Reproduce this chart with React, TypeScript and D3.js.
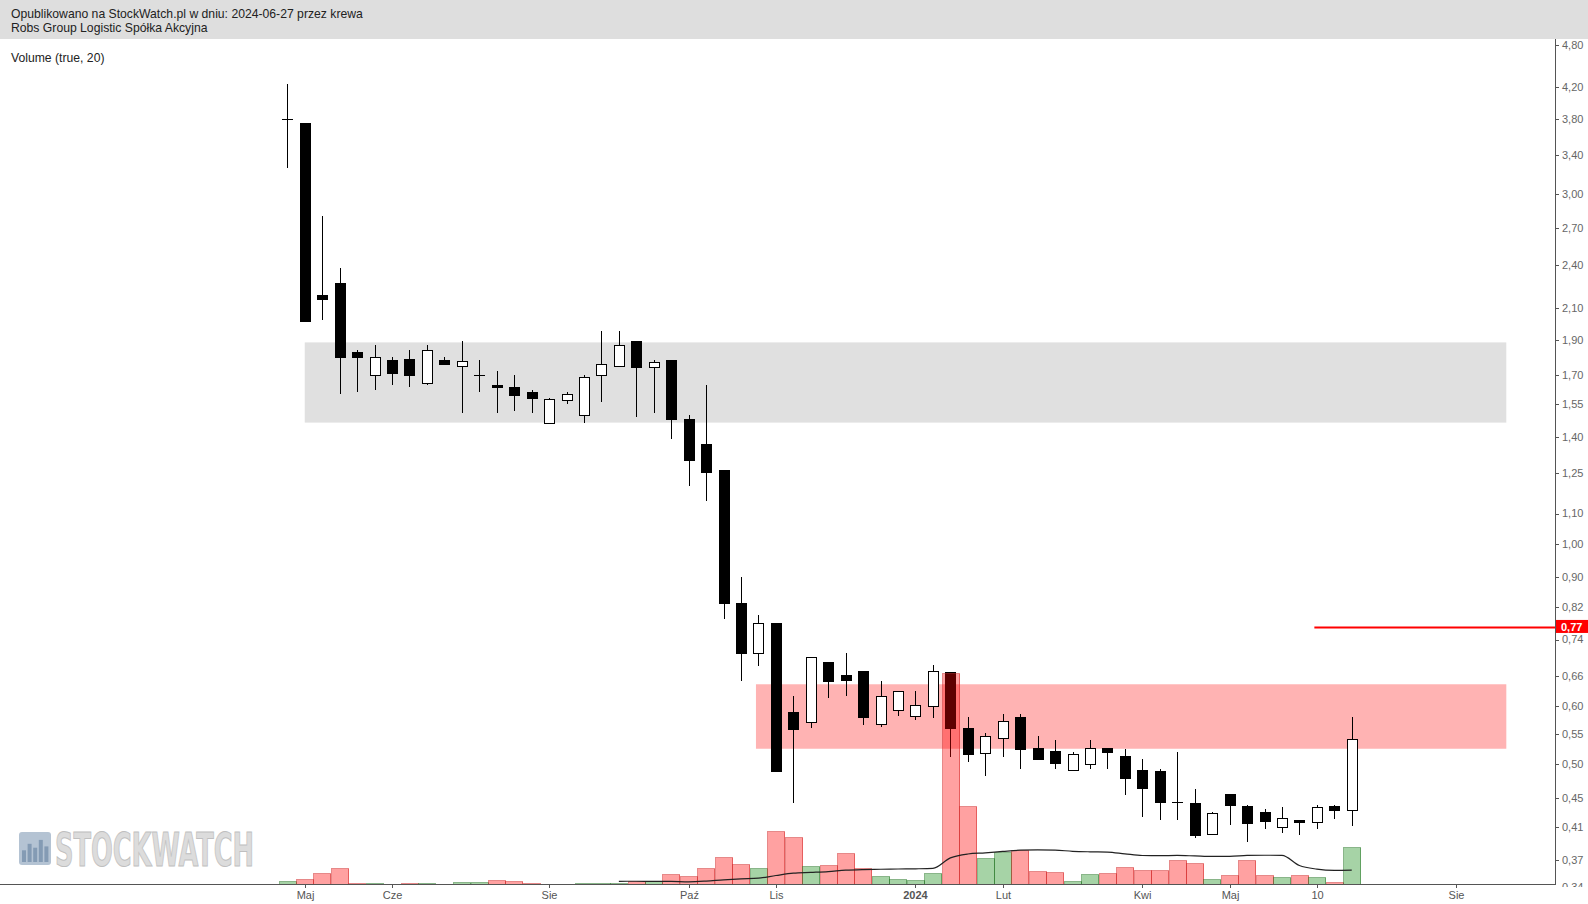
import React from "react";
import * as d3 from "d3";

const W = 1588;
const H = 904;

// weekly candles, Mondays from 2023-04-24 to 2024-06-24
const firstWeek = "2023-04-24";
const lastWeek = "2024-06-24";

const opens = [
  3.80, 3.76, 2.19, 2.27, 1.83, 1.70, 1.78, 1.79, 1.66, 1.78,
  1.75, 1.70, 1.65, 1.64, 1.61, 1.46, 1.57, 1.50, 1.70, 1.75,
  1.89, 1.74, 1.78, 1.48, 1.37, 1.26, 0.83, 0.71, 0.78, 0.59,
  0.57, 0.69, 0.663, 0.67, 0.567, 0.593, 0.582, 0.60, 0.668, 0.561,
  0.517, 0.543, 0.581, 0.527, 0.521, 0.491, 0.501, 0.527, 0.513, 0.491,
  0.489, 0.444, 0.442, 0.401, 0.455, 0.439, 0.43, 0.41, 0.42, 0.417,
  0.439, 0.434,
];
const highs = [
  4.25, 3.76, 2.80, 2.38, 1.84, 1.87, 1.80, 1.84, 1.87, 1.80,
  1.89, 1.78, 1.72, 1.70, 1.62, 1.58, 1.61, 1.70, 1.95, 1.95,
  1.89, 1.78, 1.78, 1.50, 1.65, 1.26, 0.90, 0.80, 0.78, 0.62,
  0.70, 0.69, 0.71, 0.67, 0.65, 0.63, 0.63, 0.683, 0.668, 0.581,
  0.551, 0.585, 0.585, 0.546, 0.539, 0.519, 0.539, 0.527, 0.525, 0.509,
  0.492, 0.519, 0.462, 0.43, 0.455, 0.44, 0.435, 0.437, 0.42, 0.44,
  0.44, 0.58,
];
const lows = [
  3.26, 2.02, 2.02, 1.60, 1.61, 1.62, 1.65, 1.64, 1.65, 1.755,
  1.51, 1.61, 1.51, 1.52, 1.51, 1.46, 1.55, 1.46, 1.56, 1.745,
  1.49, 1.51, 1.39, 1.20, 1.145, 0.79, 0.65, 0.68, 0.49, 0.443,
  0.56, 0.615, 0.62, 0.565, 0.562, 0.582, 0.574, 0.578, 0.512, 0.503,
  0.482, 0.512, 0.493, 0.509, 0.493, 0.491, 0.493, 0.493, 0.454, 0.424,
  0.419, 0.419, 0.397, 0.40, 0.413, 0.392, 0.408, 0.403, 0.40, 0.408,
  0.421, 0.412,
];
const closes = [
  3.80, 2.02, 2.16, 1.80, 1.80, 1.80, 1.71, 1.70, 1.84, 1.76,
  1.775, 1.70, 1.64, 1.60, 1.58, 1.575, 1.60, 1.69, 1.76, 1.87,
  1.74, 1.77, 1.48, 1.30, 1.255, 0.83, 0.71, 0.78, 0.49, 0.56,
  0.70, 0.65, 0.652, 0.58, 0.62, 0.63, 0.602, 0.67, 0.561, 0.517,
  0.546, 0.572, 0.526, 0.509, 0.501, 0.516, 0.527, 0.521, 0.478, 0.464,
  0.443, 0.443, 0.40, 0.429, 0.44, 0.416, 0.418, 0.422, 0.417, 0.437,
  0.434, 0.542,
];
// volume in arbitrary units (thousands of shares)
const volumes = [
  30, 50, 107, 157, 13, 10, 0, 13, 10, 0,
  20, 20, 40, 30, 13, 0, 0, 10, 10, 10,
  33, 33, 97, 77, 157, 267, 197, 157, 527, 467,
  177, 187, 307, 157, 77, 50, 40, 107, 2107, 780,
  260, 320, 340, 130, 120, 30, 97, 110, 167, 137,
  137, 240, 210, 50, 87, 237, 87, 67, 87, 67,
  17, 367,
];
const maPeriod = 20;

const priceTicks = [
  4.8, 4.2, 3.8, 3.4, 3.0, 2.7, 2.4, 2.1, 1.9, 1.7, 1.55, 1.4, 1.25, 1.1,
  1.0, 0.9, 0.82, 0.74, 0.66, 0.6, 0.55, 0.5, 0.45, 0.41, 0.37, 0.34,
];
const timeTickDates = [
  "2023-05-01", "2023-06-05", "2023-08-07", "2023-10-02", "2023-11-06",
  "2024-01-01", "2024-02-05", "2024-04-01", "2024-05-06", "2024-06-10", "2024-08-05",
];
const timeTickLabels = ["Maj", "Cze", "Sie", "Paź", "Lis", "2024", "Lut", "Kwi", "Maj", "10", "Sie"];
const timeTickBold = [false, false, false, false, false, true, false, false, false, false, false];

// support / resistance zones
const zoneStarts = ["2023-05-01", "2023-10-29"];
const zoneEnds = ["2024-08-25", "2024-08-25"];
const zoneLows = [1.464, 0.525];
const zoneHighs = [1.884, 0.643];

const lastPrice = 0.77;
const lastLineStart = "2024-06-09";

const headerLine1 = "Opublikowano na StockWatch.pl w dniu: 2024-06-27 przez krewa";
const headerLine2 = "Robs Group Logistic Spółka Akcyjna";
const indicatorLabel = "Volume (true, 20)";

const parse = d3.timeParse("%Y-%m-%d");
const fmt = (v: number) => v.toFixed(2).replace(".", ",");

export default function App() {
  const weeks = d3.timeMonday.range(parse(firstWeek)!, d3.timeDay.offset(parse(lastWeek)!, 1));

  const plotTop = 39;
  const plotBottom = 884;
  const axisX = 1555;

  const x = d3
    .scaleTime()
    .domain([parse(firstWeek)!, d3.timeWeek.offset(parse(firstWeek)!, 70)])
    .range([287.3, 287.3 + 70 * 17.45]);
  const step = 17.45;

  const y = d3.scaleLog().domain([0.34, 4.8]).range([886.9, 45]);
  const yVol = d3.scaleLinear().domain([0, 8450]).range([plotBottom, plotBottom - 845]);

  const ma = volumes.map((_, i) =>
    i >= maPeriod - 1 ? d3.mean(volumes.slice(i - maPeriod + 1, i + 1))! : null
  );
  const maLine = d3
    .line<[number, number]>()
    .x((d) => d[0])
    .y((d) => d[1])
    .curve(d3.curveMonotoneX);
  const maPts: [number, number][] = [];
  ma.forEach((m, i) => {
    if (m !== null) maPts.push([x(weeks[i]), yVol(m)]);
  });

  const bodyW = 10;
  const zoneFills = ["#e0e0e0", "#ffb3b3"];

  return (
    <div style={{ position: "absolute", left: 0, top: 0 }}>
      <svg
        width={W}
        height={H}
        style={{ display: "block", fontFamily: "Arial, 'Liberation Sans', sans-serif" }}
      >
        <rect x={0} y={0} width={W} height={H} fill="#ffffff" />
        {/* header */}
        <rect x={0} y={0} width={W} height={plotTop} fill="#dedede" />
        <text x={11} y={17.5} fontSize={12.2} fill="#222">
          {headerLine1}
        </text>
        <text x={11} y={31.5} fontSize={12.2} fill="#222">
          {headerLine2}
        </text>
        <text x={11} y={61.5} fontSize={12.2} fill="#222">
          {indicatorLabel}
        </text>

        {/* zones */}
        {zoneStarts.map((s, i) => (
          <rect
            key={"z" + i}
            x={x(parse(s)!)}
            y={y(zoneHighs[i])}
            width={x(parse(zoneEnds[i])!) - x(parse(s)!)}
            height={y(zoneLows[i]) - y(zoneHighs[i])}
            fill={zoneFills[i]}
          />
        ))}

        {/* watermark */}
        <g opacity={0.85}>
          <rect x={19} y={832} width={32} height={33} rx={3} fill="#a8b9cc" />
          {[0.45, 0.7, 0.55, 0.85, 0.6].map((h, i) => (
            <rect
              key={"wm" + i}
              x={22 + i * 5.6}
              y={862 - 26 * h}
              width={4}
              height={26 * h}
              fill="#6f8aa8"
            />
          ))}
          <text
            x={55}
            y={866}
            fontSize={46}
            fontWeight="bold"
            fontFamily="'DejaVu Sans Condensed', 'Liberation Sans Narrow', 'Arial Narrow', sans-serif"
            textLength={199}
            lengthAdjust="spacingAndGlyphs"
            fill="#d6d6d6"
            stroke="#b5b5b5"
            strokeWidth={1}
          >
            STOCKWATCH
          </text>
        </g>

        {/* candles */}
        {weeks.map((w, i) => {
          const cx = Math.round(x(w)) + 0.5;
          const o = opens[i];
          const c = closes[i];
          const up = c >= o;
          const yT = y(Math.max(o, c));
          const yB = y(Math.min(o, c));
          const doji = Math.abs(yB - yT) < 1;
          return (
            <g key={"c" + i} shapeRendering="crispEdges">
              <line x1={cx} x2={cx} y1={y(highs[i])} y2={y(lows[i])} stroke="#000" strokeWidth={1} />
              {doji ? (
                <line x1={cx - 5.5} x2={cx + 5.5} y1={Math.round(yT) + 0.5} y2={Math.round(yT) + 0.5} stroke="#000" />
              ) : (
                <rect
                  x={cx - bodyW / 2}
                  y={Math.round(yT) + 0.5}
                  width={bodyW}
                  height={Math.max(1, Math.round(yB - yT))}
                  fill={up ? "#fff" : "#000"}
                  stroke="#000"
                  strokeWidth={1}
                />
              )}
            </g>
          );
        })}

        {/* volume bars */}
        {weeks.map((w, i) => {
          const cx = x(w);
          const up = closes[i] >= opens[i];
          if (volumes[i] <= 0) return null;
          const top = yVol(volumes[i]);
          return (
            <rect
              key={"v" + i}
              x={Math.round(cx - step / 2) + 0.5}
              y={Math.round(top) + 0.5}
              width={Math.round(step)}
              height={Math.max(0.5, plotBottom - Math.round(top) - 0.5)}
              fill={up ? "rgba(0,128,0,0.35)" : "rgba(255,0,0,0.37)"}
              stroke={up ? "rgba(40,120,40,0.55)" : "rgba(210,40,40,0.55)"}
              strokeWidth={1}
              shapeRendering="crispEdges"
            />
          );
        })}
        <path d={maLine(maPts) || ""} fill="none" stroke="#222" strokeWidth={1.2} />

        {/* last price line */}
        <line
          x1={x(parse(lastLineStart)!)}
          x2={axisX}
          y1={Math.round(y(lastPrice)) + 0.5}
          y2={Math.round(y(lastPrice)) + 0.5}
          stroke="#ff0000"
          strokeWidth={2}
        />

        {/* axes */}
        <line x1={0} x2={axisX} y1={plotBottom + 0.5} y2={plotBottom + 0.5} stroke="#555" strokeWidth={1} />
        <line x1={axisX + 0.5} x2={axisX + 0.5} y1={plotTop} y2={plotBottom + 1} stroke="#555" strokeWidth={1} />
        <defs>
          <clipPath id="axisClip">
            <rect x={axisX} y={plotTop} width={W - axisX} height={plotBottom + 3 - plotTop} />
          </clipPath>
        </defs>
        <g clipPath="url(#axisClip)">
          {priceTicks.map((t, i) => (
            <g key={"pt" + i}>
              <line
                x1={axisX}
                x2={axisX + 4}
                y1={Math.round(y(t)) + 0.5}
                y2={Math.round(y(t)) + 0.5}
                stroke="#555"
              />
              <text x={axisX + 7} y={y(t)} dy="0.35em" fontSize={11} fill="#666">
                {fmt(t)}
              </text>
            </g>
          ))}
          <rect x={axisX + 1} y={y(lastPrice) - 7} width={W - axisX} height={13} fill="#ff0000" />
          <text
            x={axisX + 6}
            y={y(lastPrice)}
            dy="0.35em"
            fontSize={11}
            fontWeight="bold"
            fill="#fff"
          >
            {fmt(lastPrice)}
          </text>
        </g>
        {timeTickDates.map((d, i) => {
          const tx = Math.round(x(parse(d)!)) + 0.5;
          return (
            <g key={"tt" + i}>
              <line x1={tx} x2={tx} y1={plotBottom} y2={plotBottom + 4} stroke="#555" />
              <text
                x={tx}
                y={899}
                textAnchor="middle"
                fontSize={11}
                fontWeight={timeTickBold[i] ? "bold" : "normal"}
                fill="#555"
              >
                {timeTickLabels[i]}
              </text>
            </g>
          );
        })}
      </svg>
    </div>
  );
}
